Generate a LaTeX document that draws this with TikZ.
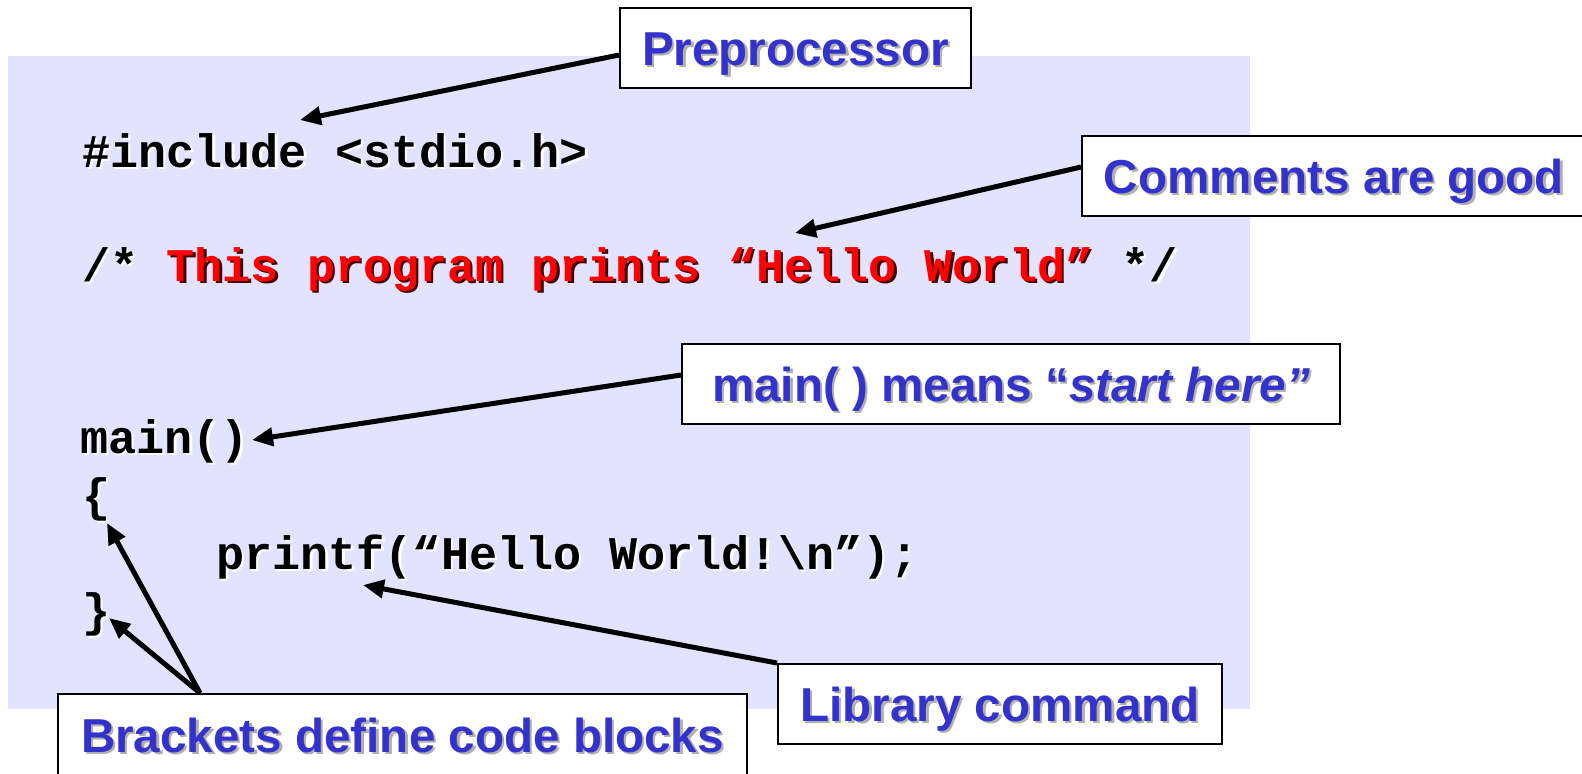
\documentclass[tikz,border=0pt]{standalone}
\usepackage{fontspec}
\setmainfont{Liberation Sans}
\newfontfamily\codefont{Liberation Mono}
\usetikzlibrary{arrows.meta}
\definecolor{bgl}{RGB}{227,227,255}
\definecolor{lblue}{RGB}{51,51,204}
\definecolor{shgray}{RGB}{175,175,175}
\definecolor{cred}{RGB}{255,0,0}
\definecolor{redsh}{RGB}{70,0,0}
\newcommand\shtxt[3]{\makebox[0pt][l]{\hspace{1.2pt}\raisebox{-1.2pt}{\color{#2}{}#3}}{\color{#1}{}#3}}
\tikzset{
  lbl/.style={draw=black, line width=1pt, fill=white, inner sep=0pt,
    font=\fontsize{23.8}{28}\selectfont\bfseries, text height=17.1pt, text depth=0pt, align=center},
  code/.style={anchor=base west, inner sep=0pt, font=\codefont\fontsize{23.4}{28}\selectfont\bfseries},
  arr/.style={line width=2.5pt, -{Triangle[length=10.5pt,width=9pt]}},
}
\begin{document}
\begin{tikzpicture}[x=0.5pt,y=-0.5pt]
\clip (0,0) rectangle (1582,773);
\fill[bgl] (8,56) rectangle (1250,709);

% code
\node[code] (inc) at (82,167) {\shtxt{black}{white}{\#include <stdio.h>}};
\node[code] (cmt) at (82,281) {\shtxt{black}{white}{/* }\shtxt{cred}{redsh}{This program prints “Hello World”}\shtxt{black}{white}{ */}};
\node[code] (mn) at (80,453) {\shtxt{black}{white}{main()}};
\node[code] (ob) at (82,511) {\shtxt{black}{white}{\{}};
\node[code] (pf) at (216,569) {\shtxt{black}{white}{printf(“Hello World!\textbackslash n”);}};
\node[code] (cb) at (82,626) {\shtxt{black}{white}{\}}};

% labels
\node[lbl, minimum width=175.5pt, minimum height=40pt] (pre) at (795.5,48) {\shtxt{lblue}{shgray}{Preprocessor}};
\node[lbl, minimum width=252pt, minimum height=40pt] (com) at (1334,176) {\shtxt{lblue}{shgray}{Comments are good}};
\node[lbl, minimum width=329pt, minimum height=40pt] (ml) at (1011,384) {\shtxt{lblue}{shgray}{main( ) means “\textit{start here”}}};
\node[lbl, minimum width=222pt, minimum height=40pt] (lib) at (1000,704) {\shtxt{lblue}{shgray}{Library command}};
\node[lbl, minimum width=344.5pt, minimum height=41pt] (br) at (402.5,735) {\shtxt{lblue}{shgray}{Brackets define code blocks}};

% arrow targets
\coordinate (tinc) at (300,120);
\coordinate (tcmt) at (795,233);
\coordinate (tmn) at (252,440);
\coordinate (tpf) at (363,585);
\coordinate (tob) at (107,523);
\coordinate (tcb) at (109,618);

\draw[arr] ([yshift=-3.5pt]pre.west) -- (tinc);
\draw[arr] ([yshift=4.5pt]com.west) -- (tcmt);
\draw[arr] ([yshift=4.5pt]ml.west) -- (tmn);
\draw[arr] (lib.north west) -- (tpf);
\draw[arr] ([xshift=71.5pt]br.north west) -- (tob);
\draw[arr] ([xshift=71.5pt]br.north west) -- (tcb);
\end{tikzpicture}
\end{document}
